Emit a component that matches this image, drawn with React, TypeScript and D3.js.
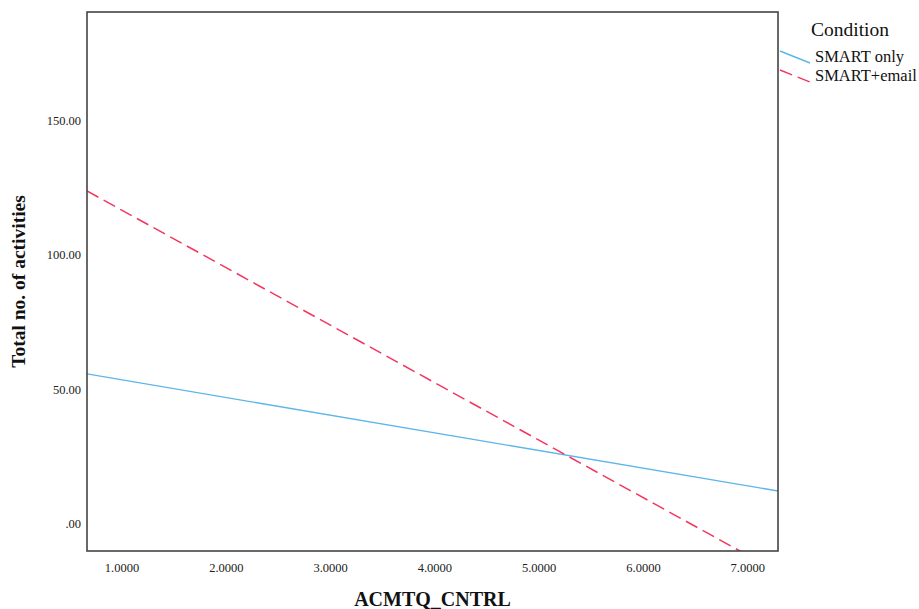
import React, { useEffect, useRef } from 'react';
import * as d3 from 'd3';

// fitted line endpoints (x at left / right edge of the plot)
const xEnds = [0.664, 7.29];
const smartOnly = [55.8, 12.3];
const smartEmail = [123.8, -17.8];
const xTicks = [1, 2, 3, 4, 5, 6, 7];
const yTicks = [0, 50, 100, 150];
const seriesNames = ['SMART only', 'SMART+email'];

export default function App() {
  const svgRef = useRef<SVGSVGElement>(null);

  useEffect(() => {
    const width = 919;
    const height = 609;
    const margin = { top: 12, right: 141, bottom: 58, left: 87 };

    const svg = d3.select(svgRef.current);
    svg.selectAll('*').remove();
    svg.attr('width', width).attr('height', height);

    const x = d3.scaleLinear().domain([0.664, 7.29]).range([margin.left, width - margin.right]);
    const y = d3.scaleLinear().domain([-10, 190.3]).range([height - margin.bottom, margin.top]);

    svg.append('rect').attr('width', width).attr('height', height).attr('fill', '#fff');

    svg.append('defs').append('clipPath').attr('id', 'plot-clip')
      .append('rect')
      .attr('x', margin.left).attr('y', margin.top)
      .attr('width', width - margin.left - margin.right)
      .attr('height', height - margin.top - margin.bottom);

    const font = '"Liberation Serif", "Times New Roman", serif';

    // tick labels
    svg.append('g').selectAll('text').data(xTicks).enter().append('text')
      .attr('x', d => x(d))
      .attr('y', height - margin.bottom + 21)
      .attr('text-anchor', 'middle')
      .style('font-family', font).style('font-size', '12.5px').style('fill', '#222')
      .text(d => d3.format('.4f')(d));

    svg.append('g').selectAll('text').data(yTicks).enter().append('text')
      .attr('x', margin.left - 6)
      .attr('y', d => y(d))
      .attr('dy', '0.35em')
      .attr('text-anchor', 'end')
      .style('font-family', font).style('font-size', '12.5px').style('fill', '#222')
      .text(d => d === 0 ? '.00' : d3.format('.2f')(d));

    // lines
    const line = d3.line<number>().x((d, i) => x(xEnds[i])).y(d => y(d));
    const g = svg.append('g').attr('clip-path', 'url(#plot-clip)');
    g.append('path').datum(smartOnly).attr('d', line)
      .attr('fill', 'none').attr('stroke', '#5db5ea').attr('stroke-width', 1.3);
    g.append('path').datum(smartEmail).attr('d', line)
      .attr('fill', 'none').attr('stroke', '#f2365f').attr('stroke-width', 1.5)
      .attr('stroke-dasharray', '13,6');

    // frame
    svg.append('rect')
      .attr('x', margin.left).attr('y', margin.top)
      .attr('width', width - margin.left - margin.right)
      .attr('height', height - margin.top - margin.bottom)
      .attr('fill', 'none').attr('stroke', '#444').attr('stroke-width', 1.6);

    // axis titles
    svg.append('text')
      .attr('x', (margin.left + width - margin.right) / 2)
      .attr('y', 606)
      .attr('text-anchor', 'middle')
      .style('font-family', font).style('font-size', '20px').style('font-weight', 'bold').style('fill', '#111')
      .text('ACMTQ_CNTRL');

    svg.append('text')
      .attr('transform', `translate(25, ${(margin.top + height - margin.bottom) / 2}) rotate(-90)`)
      .attr('text-anchor', 'middle')
      .style('font-family', font).style('font-size', '19.5px').style('font-weight', 'bold').style('fill', '#111')
      .text('Total no. of activities');

    // legend
    const legend = svg.append('g');
    legend.append('text')
      .attr('x', 811).attr('y', 36)
      .style('font-family', font).style('font-size', '19.5px').style('fill', '#111')
      .text('Condition');
    const colors = ['#5db5ea', '#f2365f'];
    const dashes = ['none', '13,6'];
    seriesNames.forEach((name, i) => {
      const yy = 51 + i * 19;
      legend.append('line')
        .attr('x1', 780).attr('y1', yy).attr('x2', 810).attr('y2', yy + 12)
        .attr('stroke', colors[i]).attr('stroke-width', 1.4)
        .attr('stroke-dasharray', dashes[i]);
      legend.append('text')
        .attr('x', 815).attr('y', yy + 11)
        .style('font-family', font).style('font-size', '16.5px').style('fill', '#111')
        .text(name);
    });
  }, []);

  return (
    <svg ref={svgRef} style={{ position: 'absolute', left: 0, top: 0, display: 'block' }} />
  );
}
